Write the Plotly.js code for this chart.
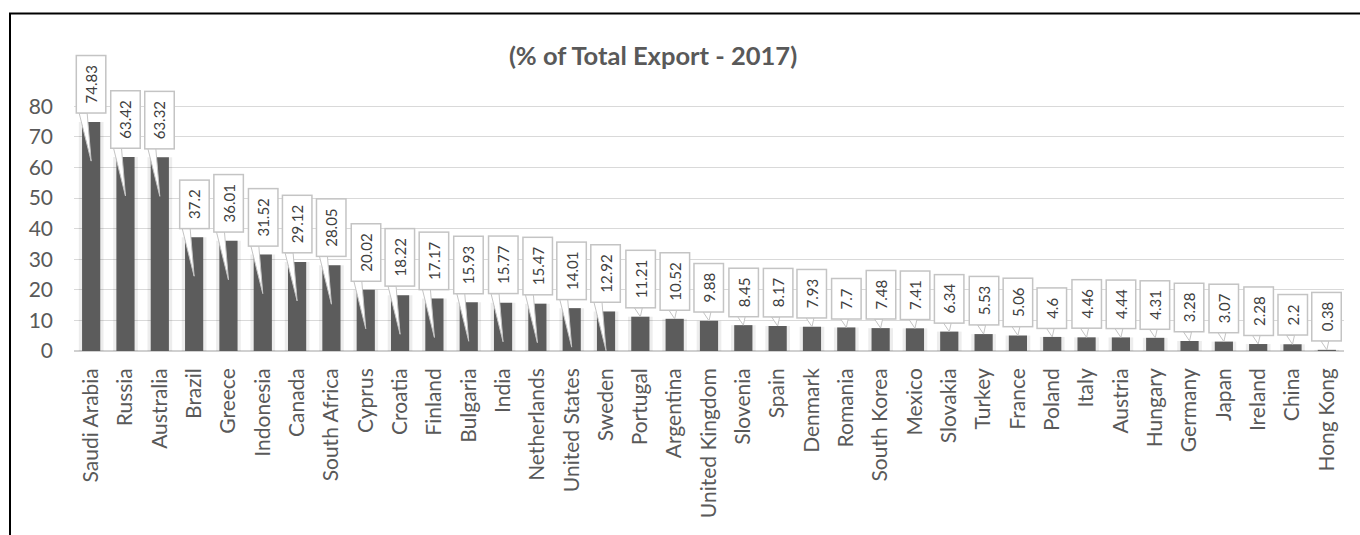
<!DOCTYPE html>
<html>
<head>
<meta charset="utf-8">
<script src="https://cdn.plot.ly/plotly-3.0.1.min.js"></script>
<style>
html,body{margin:0;padding:0;background:#fff;}
#chart{width:1360px;height:535px;}
</style>
</head>
<body>
<div id="chart"></div>
<script>
const countries = ["Saudi Arabia","Russia","Australia","Brazil","Greece","Indonesia","Canada","South Africa","Cyprus","Croatia","Finland","Bulgaria","India","Netherlands","United States","Sweden","Portugal","Argentina","United Kingdom","Slovenia","Spain","Denmark","Romania","South Korea","Mexico","Slovakia","Turkey","France","Poland","Italy","Austria","Hungary","Germany","Japan","Ireland","China","Hong Kong"];
const exportShare = [74.83,63.42,63.32,37.2,36.01,31.52,29.12,28.05,20.02,18.22,17.17,15.93,15.77,15.47,14.01,12.92,11.21,10.52,9.88,8.45,8.17,7.93,7.7,7.48,7.41,6.34,5.53,5.06,4.6,4.46,4.44,4.31,3.28,3.07,2.28,2.2,0.38];
const yTicks = [0,10,20,30,40,50,60,70,80];
const chartTitle = "(% of Total Export - 2017)";

const idx = countries.map((c,i)=>i);
const W = 1360, H = 535;
const margin = {l:74, r:16, t:91, b:184};
const plotW = W - margin.l - margin.r;
const plotH = H - margin.t - margin.b;
const font = "Lato, 'Open Sans', sans-serif";
const grey = "#595959";

const glow = {
  type:"bar", x: idx, y: exportShare, width: 0.72,
  marker:{color:"rgba(0,0,0,0.07)"}, hoverinfo:"skip", showlegend:false
};
const bars = {
  type:"bar", x: idx, y: exportShare, width: 0.53,
  marker:{color:"#5c5c5c"}, showlegend:false
};

const nb = "\u00a0";
const annotations = exportShare.map((v,i)=>({
  x:i, y:v, xref:"x", yref:"y", showarrow:false,
  text: nb + String(v) + nb, textangle:-90,
  yanchor:"bottom", xanchor:"center", yshift:8,
  font:{family:font, size:15, color:"#404040"},
  bgcolor:"#ffffff", bordercolor:"#c4c4c4", borderwidth:1.5, borderpad:5
}));

const shapes = exportShare.map((v,i)=>{
  const long = v >= 12;
  const path = long ? "M -12 9 L -4 9 L 0 -39 Z" : "M -6 9 L 2 9 L 0 0 Z";
  return {
    type:"path", xref:"x", yref:"y",
    xsizemode:"pixel", xanchor:i, ysizemode:"pixel", yanchor:v,
    path:path, fillcolor:"#ffffff", line:{color:"#c4c4c4", width:1}, layer:"above"
  };
});
// chart frame (left & top edges)
const px2paperX = p => (p - margin.l)/plotW;
const px2paperY = p => (H - margin.b - p)/plotH;
shapes.push({type:"line", xref:"paper", yref:"paper",
  x0:px2paperX(10), x1:px2paperX(10), y0:px2paperY(560), y1:px2paperY(13.5),
  line:{color:"#000", width:2}});
shapes.push({type:"line", xref:"paper", yref:"paper",
  x0:px2paperX(9), x1:px2paperX(1400), y0:px2paperY(13.5), y1:px2paperY(13.5),
  line:{color:"#000", width:2}});

const layout = {
  width:W, height:H, margin:margin,
  paper_bgcolor:"#fff", plot_bgcolor:"#fff",
  barmode:"overlay",
  title:{text:"<b>"+chartTitle+"</b>", font:{family:font, size:25.5, color:grey},
    x:653/W, xref:"container", xanchor:"center", y:1-56/H, yref:"container", yanchor:"middle"},
  xaxis:{range:[-0.5, countries.length-0.5], tickvals:idx, ticktext:countries,
    tickangle:-90, showgrid:false, zeroline:false, showline:false, ticks:"",
    ticklabelstandoff:12,
    tickfont:{family:font, size:21, color:grey}, fixedrange:true},
  yaxis:{range:[0,85], tickvals:yTicks, ticktext:yTicks.map(String),
    showgrid:true, gridcolor:"#d9d9d9", gridwidth:1,
    zeroline:true, zerolinecolor:"#d0d0d0", zerolinewidth:2,
    showline:false, ticks:"", ticklabelstandoff:20,
    tickfont:{family:font, size:21, color:grey}, fixedrange:true},
  annotations:annotations,
  shapes:shapes,
  showlegend:false
};

Plotly.newPlot("chart", [glow, bars], layout, {staticPlot:true, displayModeBar:false});
</script>
</body>
</html>
